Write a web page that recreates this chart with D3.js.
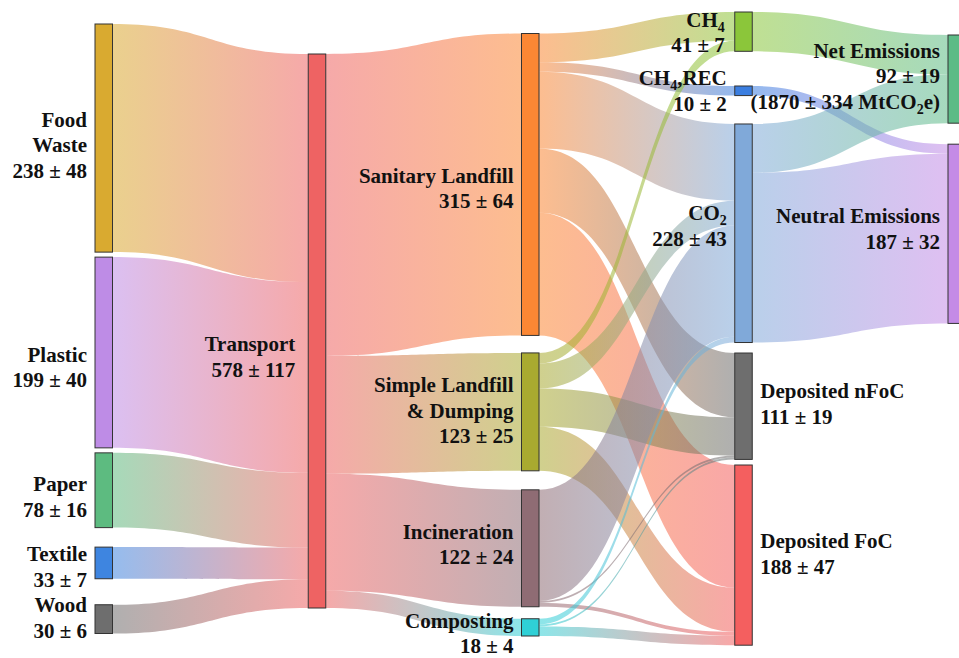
<!DOCTYPE html>
<html>
<head>
<meta charset="utf-8">
<script src="https://d3js.org/d3.v7.min.js"></script>
<style>
  body { margin: 0; background: #fff; }
  svg text { font-family: "Liberation Serif", "Times New Roman", serif; font-weight: bold; fill: #111; }
</style>
</head>
<body>
<svg id="chart" width="959" height="658"></svg>
<script>
// ---- data ----
// nodes, listed column by column ("\n" = line break, "_x" = subscript x)
const nodeNames = ["Food\nWaste", "Plastic", "Paper", "Textile", "Wood",
  "Transport",
  "Sanitary Landfill", "Simple Landfill\n& Dumping", "Incineration", "Composting",
  "CH_4", "CH_4,REC", "CO_2", "Deposited nFoC", "Deposited FoC",
  "Net Emissions", "Neutral Emissions"];
const nodeMeans  = [238, 199, 78, 33, 30, 578, 315, 123, 122, 18, 41, 10, 228, 111, 188, 92, 187];
const nodeErrors = [48, 40, 16, 7, 6, 117, 64, 25, 24, 4, 7, 2, 43, 19, 47, 19, 32];
const nodeNotes  = { 15: "(1870 ± 334 MtCO_2e)" };
const nodeColumns = [0, 0, 0, 0, 0, 1, 2, 2, 2, 2, 3, 3, 3, 3, 3, 4, 4];

// flows (indices into nodeNames)
const linkSource = [0, 1, 2, 3, 4,  5, 5, 5, 5,  6, 6, 6, 6, 6,  7, 7, 7, 7,  8, 8, 8,  9, 9, 9,  10, 11, 12, 12];
const linkTarget = [5, 5, 5, 5, 5,  6, 7, 8, 9,  10, 11, 12, 13, 14,  10, 12, 13, 14,  12, 13, 14,  12, 13, 14,  15, 16, 15, 16];
const linkValue  = [238, 199, 78, 33, 30,  315, 123, 122, 18,  30, 10, 80, 67, 128,  11, 26, 40, 46,  116, 2, 4,  6, 2, 10,  41, 10, 51, 177];

// ---- layout / style ----
const width = 959, height = 658, nodeWidth = 17.5, lineH = 25.5;
const nodeColors = ["#d9aa30", "#be8ce6", "#5dbb80", "#3e85e0", "#6e6e6e",
  "#ee6363",
  "#fb8734", "#a9aa30", "#8f6c74", "#2fd0d6",
  "#8bc63a", "#3b7ee0", "#80a9d9", "#6e6e6e", "#f45f5f",
  "#5dbb86", "#c48be6"];
const colTop  = [24, 54, 33.5, 12, 35];
const nodeGap = [0, 5, 5, 19.5, 26,  0,  0, 17.5, 19, 12,  0, 34.7, 28.4, 10.5, 5.6,  0, 21];
const labelDx = [0, 0, 0, 0, 0, -5, 0, 0, 0, 0, -2, 0, 0, 0, 0, 0, 0];
const labelDy = [7, 15, 7, 4, -1, 26, 4, -1, -4, 6, 1, 0, -7, -2, -1, -3, -5];
const labelRight = [13, 14];

const svg = d3.select("#chart");
const x = d3.scalePoint().domain(d3.range(5)).range([95, 948]);
const h = d3.scaleLinear().domain([0, 578]).range([0, 554]);

const nodes = nodeNames.map((name, i) => ({ i, name, value: nodeMeans[i], col: nodeColumns[i], color: nodeColors[i] }));
const colY = colTop.slice();
nodes.forEach(n => {
  n.x0 = x(n.col);
  n.x1 = n.x0 + nodeWidth;
  n.y0 = colY[n.col] + nodeGap[n.i];
  n.y1 = n.y0 + h(n.value);
  colY[n.col] = n.y1;
});

const links = linkValue.map((v, i) => ({ i, source: nodes[linkSource[i]], target: nodes[linkTarget[i]], value: v, w: h(v) }));
nodes.forEach(n => {
  let y = n.y0;
  links.filter(l => l.source === n).sort((a, b) => a.target.y0 - b.target.y0)
    .forEach(l => { l.sy = y; y += l.w; });
  y = n.y0;
  links.filter(l => l.target === n).sort((a, b) => a.source.y0 - b.source.y0)
    .forEach(l => { l.ty = y; y += l.w; });
});

function ribbon(l) {
  const x0 = l.source.x1, x1 = l.target.x0, xm = (x0 + x1) / 2;
  const p = d3.path();
  p.moveTo(x0, l.sy);
  p.bezierCurveTo(xm, l.sy, xm, l.ty, x1, l.ty);
  p.lineTo(x1, l.ty + l.w);
  p.bezierCurveTo(xm, l.ty + l.w, xm, l.sy + l.w, x0, l.sy + l.w);
  p.closePath();
  return p.toString();
}

// gradients
const defs = svg.append("defs");
const grad = defs.selectAll("linearGradient").data(links).join("linearGradient")
  .attr("id", d => "g" + d.i)
  .attr("gradientUnits", "userSpaceOnUse")
  .attr("x1", d => d.source.x1).attr("x2", d => d.target.x0)
  .attr("y1", 0).attr("y2", 0);
grad.append("stop").attr("offset", "0%").attr("stop-color", d => d.source.color);
grad.append("stop").attr("offset", "100%").attr("stop-color", d => d.target.color);

svg.append("g")
  .selectAll("path").data(links).join("path")
  .attr("d", ribbon)
  .attr("fill", d => "url(#g" + d.i + ")")
  .attr("fill-opacity", 0.55);

svg.append("g")
  .selectAll("rect").data(nodes).join("rect")
  .attr("x", d => d.x0).attr("y", d => d.y0)
  .attr("width", nodeWidth).attr("height", d => d.y1 - d.y0)
  .attr("fill", d => d.color)
  .attr("stroke", "#333").attr("stroke-width", 1);

// labels
function richLine(sel, str) {
  const parts = str.split(/_(\w)/);
  parts.forEach((p, k) => {
    if (!p) return;
    if (k % 2 === 1) sel.append("tspan").attr("dy", 5).attr("font-size", 14).text(p);
    else sel.append("tspan").attr("dy", k > 0 ? -5 : 0).text(p);
  });
}

const labels = svg.append("g").attr("font-size", 21);
nodes.forEach(n => {
  const lines = n.name.split("\n").concat([nodeMeans[n.i] + " ± " + nodeErrors[n.i]]);
  if (nodeNotes[n.i]) lines.push(nodeNotes[n.i]);
  const right = labelRight.includes(n.i);
  const tx = right ? n.x1 + 8 : n.x0 - 8 + labelDx[n.i];
  const cy = (n.y0 + n.y1) / 2 + labelDy[n.i];
  const y0 = cy - (lines.length - 1) * lineH / 2 + 7;
  const t = labels.append("text").attr("text-anchor", right ? "start" : "end");
  lines.forEach((s, k) => {
    richLine(t.append("tspan").attr("x", tx).attr("y", y0 + k * lineH), s);
  });
});
</script>
</body>
</html>
